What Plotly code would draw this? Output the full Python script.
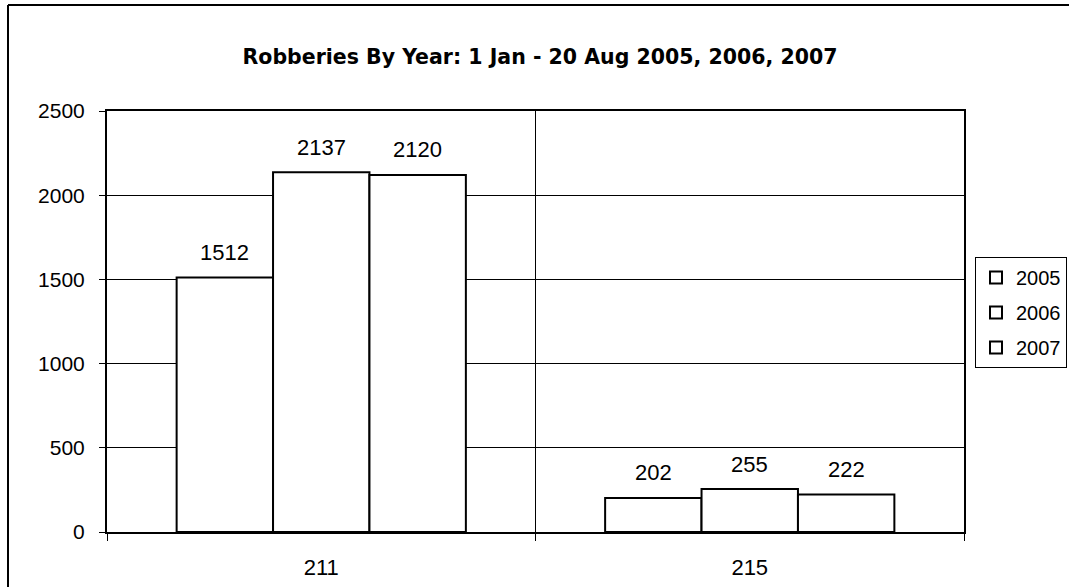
import plotly.graph_objects as go

categories = ["211", "215"]
years = ["2005", "2006", "2007"]
values_2005 = [1512, 202]
values_2006 = [2137, 255]
values_2007 = [2120, 222]
y_ticks = [0, 500, 1000, 1500, 2000, 2500]

series = {"2005": values_2005, "2006": values_2006, "2007": values_2007}

FONT = "Liberation Sans, Arial, sans-serif"
TITLE_FONT = "DejaVu Sans, Arial, sans-serif"
BARGAP = 0.325

W, H = 1069, 587
ML, MR, MT, MB = 107, 105, 111, 55
PW, PH = W - ML - MR, H - MT - MB

fig = go.Figure()
for yr in years:
    fig.add_trace(go.Bar(
        x=categories, y=series[yr], name=yr, legendgroup=yr,
        marker=dict(color="white", line=dict(color="black", width=2)),
        hoverinfo="skip",
    ))

# value labels above each bar
n = len(years)
bw = (1 - BARGAP) / n
annotations = []
for j, yr in enumerate(years):
    off = (j - (n - 1) / 2) * bw
    for i, v in enumerate(series[yr]):
        annotations.append(dict(
            x=i + off, y=v, xref="x", yref="y", text=str(v), showarrow=False,
            yanchor="middle", yshift=25,
            font=dict(family=FONT, size=22, color="black"),
        ))


def px_x(px):
    return (px - ML) / PW


def px_y(py):
    return (H - MB - py) / PH


fig.update_layout(
    width=W, height=H,
    margin=dict(l=ML, r=MR, t=MT, b=MB, autoexpand=False),
    paper_bgcolor="white", plot_bgcolor="white",
    barmode="group", bargap=BARGAP, bargroupgap=0,
    title=dict(
        text="<b>Robberies By Year: 1 Jan - 20 Aug 2005, 2006, 2007</b>",
        x=540 / W, xanchor="center", y=1 - 57 / H, yanchor="middle",
        font=dict(family=TITLE_FONT, size=20.5, color="black"),
    ),
    showlegend=True,
    legend=dict(
        x=px_x(975), y=px_y(257), xanchor="left", yanchor="top",
        bordercolor="black", borderwidth=1, bgcolor="white",
        font=dict(family=FONT, size=20, color="black"),
        tracegroupgap=6, itemwidth=30,
    ),
    annotations=annotations,
    shapes=[
        dict(type="line", xref="paper", yref="paper", x0=px_x(8), x1=px_x(W + 5),
             y0=px_y(5), y1=px_y(5), line=dict(color="black", width=2)),
        dict(type="line", xref="paper", yref="paper", x0=px_x(8), x1=px_x(8),
             y0=px_y(5), y1=px_y(H + 5), line=dict(color="black", width=2)),
    ],
)

fig.update_xaxes(
    type="category", tickson="boundaries", automargin=False,
    showgrid=True, gridcolor="black", gridwidth=1,
    showline=True, linecolor="black", linewidth=2, mirror=True,
    ticks="outside", ticklen=7, tickcolor="black", tickwidth=1,
    ticklabelstandoff=15,
    tickfont=dict(family=FONT, size=22, color="black"),
)
fig.update_yaxes(
    range=[0, 2500], tickvals=y_ticks, automargin=False,
    showgrid=True, gridcolor="black", gridwidth=1,
    showline=True, linecolor="black", linewidth=2, mirror=True,
    ticks="outside", ticklen=6, tickcolor="black", tickwidth=1,
    ticklabelstandoff=10, zeroline=False,
    tickfont=dict(family=FONT, size=21, color="black"),
)

fig.write_html(
    "out.html",
    config={"displayModeBar": False},
    post_script="document.body.style.margin='0';document.body.style.overflow='hidden';",
)
